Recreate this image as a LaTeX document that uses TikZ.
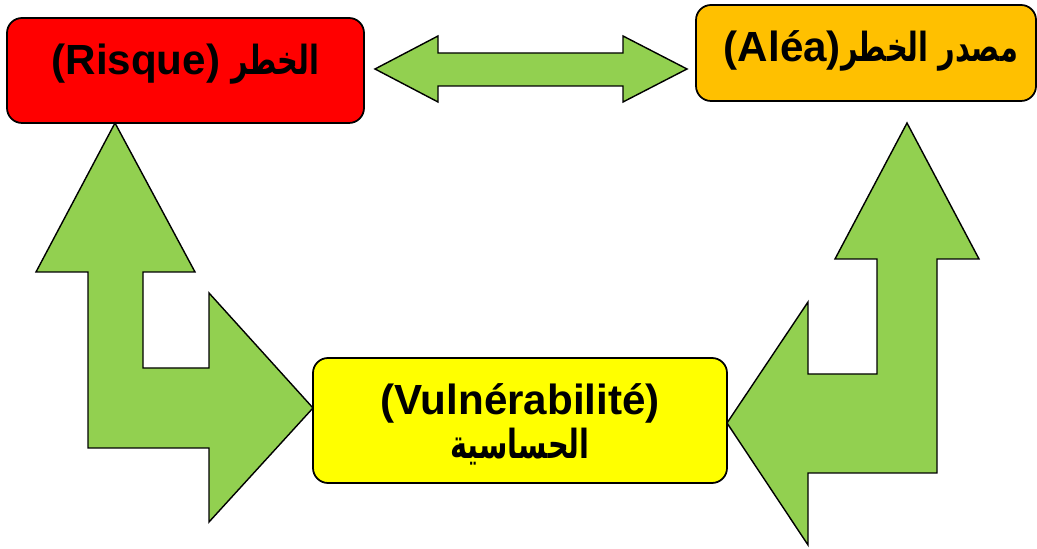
\documentclass[tikz,border=0pt]{standalone}
\usepackage{fontspec}
\setmainfont{Liberation Sans}
\newfontfamily\arabicfont[Script=Arabic,Scale=0.95,FakeStretch=0.72]{DejaVu Sans}
\TeXXeTstate=1
\definecolor{boxred}{HTML}{FF0000}
\definecolor{boxorange}{HTML}{FFC000}
\definecolor{boxyellow}{HTML}{FFFF00}
\definecolor{arrowgreen}{HTML}{92D050}

\begin{document}
\begin{tikzpicture}[line width=0.5pt,
  box/.style={draw,rounded corners=0.15cm,inner sep=0pt},
  boxtext/.style={inner sep=0pt,align=center,font=\fontsize{12}{12.6}\selectfont\bfseries},
  bigarrow/.style={draw,fill=arrowgreen,line width=0.4pt,line join=miter}]
  \useasboundingbox (0,0) rectangle (10.37,5.49);
  \node (risque) at (1.855,4.785) [box,fill=boxred,minimum width=3.57cm,minimum height=1.05cm]{};
  \node (alea) at (8.66,4.96) [box,fill=boxorange,minimum width=3.40cm,minimum height=0.96cm]{};
  \node (vuln) at (5.20,1.285) [box,fill=boxyellow,minimum width=4.14cm,minimum height=1.25cm]{};
  \node (risquetxt) at ([yshift=0.06cm]risque.center) [boxtext]
    {(Risque) {\arabicfont\beginR الخطر\endR}};
  \node (aleatxt) at ([xshift=0.05cm,yshift=0.02cm]alea.center) [boxtext]
    {(Aléa){\arabicfont\beginR مصدر الخطر\endR}};
  \node (vulntxt) at ([yshift=-0.04cm]vuln.center) [boxtext]
    {(Vulnérabilité)\\{\arabicfont\beginR الحساسية\endR}};
  \draw [bigarrow](3.75,4.80)--(4.38,5.13)--(4.38,4.96)--(6.23,4.96)--(6.23,5.13)--(6.87,4.80)
    --(6.23,4.47)--(6.23,4.63)--(4.38,4.63)--(4.38,4.47)--cycle;
  \draw [bigarrow](1.15,4.26)--(1.95,2.77)--(1.43,2.77)--(1.43,1.81)--(2.09,1.81)--(2.09,2.56)
    --(3.13,1.41)--(2.09,0.27)--(2.09,1.01)--(0.88,1.01)--(0.88,2.77)--(0.36,2.77)--cycle;
  \draw [bigarrow](9.07,4.26)--(9.79,2.90)--(9.37,2.90)--(9.37,0.76)--(8.08,0.76)--(8.08,0.04)
    --(7.27,1.26)--(8.08,2.47)--(8.08,1.75)--(8.77,1.75)--(8.77,2.90)--(8.35,2.90)--cycle;
\end{tikzpicture}
\end{document}
